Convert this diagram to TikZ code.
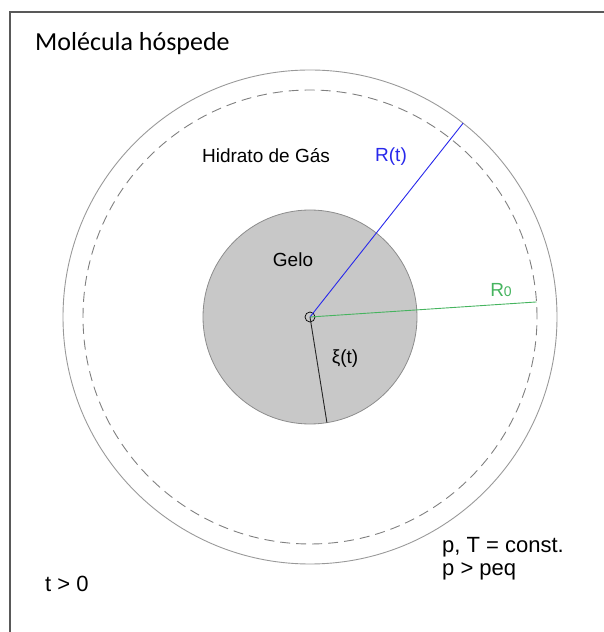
\documentclass[tikz,border=0pt]{standalone}
\usepackage{fontspec}
\setmainfont{Liberation Sans}
\newfontfamily\titlefont{Carlito}
\usetikzlibrary{positioning,calc}
\definecolor{rtBlue}{RGB}{40,40,235}
\definecolor{rzGreen}{RGB}{70,180,95}
\definecolor{iceGray}{RGB}{200,200,200}
\tikzset{
  frameln/.style={line width=2pt, black!65},
  outerln/.style={line width=0.9pt, black!40},
  dashln/.style={line width=0.9pt, black!50, dash pattern=on 10pt off 6pt},
  iceln/.style={line width=0.8pt, black!45, fill=iceGray},
  radln/.style={line width=0.9pt},
  lbl/.style={font=\fontsize{19}{22}\selectfont, inner sep=0pt},
  cornerlbl/.style={font=\fontsize{22}{24}\selectfont, inner sep=0pt, anchor=base west},
}
\newcommand{\Rout}{247}
\newcommand{\Rdash}{227}
\newcommand{\Rice}{107}

\begin{document}
\begin{tikzpicture}[x=1pt,y=1pt]
    \useasboundingbox (0,0) rectangle (604,632);
    \draw[frameln] (10,0) -- (10,620) -- (604,620);
    % the particle
    \coordinate (c) at (310,315);
    \draw[outerln] (c) circle (\Rout);
    \draw[dashln] (c) circle (\Rdash);
    \draw[iceln] (c) circle (\Rice);
    \node[circle, draw, line width=0.7pt, minimum size=10pt, inner sep=0pt] (o) at (c) {};
    % radii
    \coordinate (rt) at ($(c)+(51.7:\Rout)$);
    \coordinate (rz) at ($(c)+(3.8:\Rdash)$);
    \coordinate (xi) at ($(c)+(-80.9:\Rice)$);
    \draw[radln, rtBlue] (o.center) -- (rt);
    \draw[radln, rzGreen] (o.center) -- (rz);
    \draw[radln, black!85] (o.center) -- (xi);
    % labels
    \node[anchor=base west, inner sep=0pt, font=\titlefont\fontsize{26}{28}\selectfont]
      (title) at (35,581) {Molécula hóspede};
    \node[lbl, anchor=base] (hyd) at (266,469) {Hidrato de Gás};
    \node[lbl, anchor=base, rtBlue] (rtl) at (391,470) {R(t)};
    \node[lbl, anchor=base] (gelo) at (293,365) {Gelo};
    \node[lbl, anchor=base, rzGreen] (rzl) at (501,335) {R{\fontsize{14}{14}\selectfont 0}};
    \node[lbl, anchor=base] (xil) at (345,268) {ξ(t)};
    \node[cornerlbl] (time) at (45,40) {t > 0};
    \node[cornerlbl, align=left] (cond) at (442,56)
      {p, T = const.\\p > peq};
\end{tikzpicture}
\end{document}
